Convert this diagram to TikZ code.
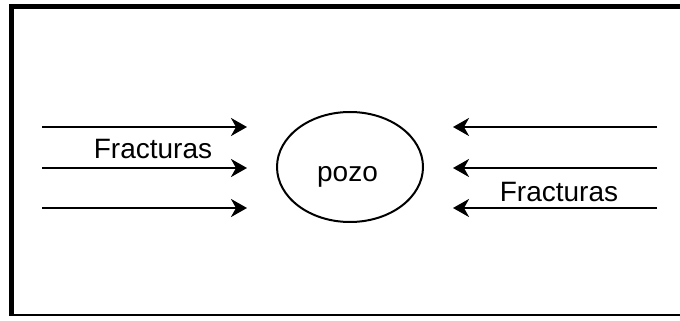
\documentclass[tikz,border=0pt]{standalone}
\usepackage{fontspec}
\setmainfont{Liberation Sans}
\usetikzlibrary{arrows.meta,shapes.geometric}
\begin{document}
\begin{tikzpicture}[x=1pt,y=1pt,
  flow/.style={line width=2.4pt,-{Stealth[length=16pt,width=18pt,inset=5pt]}},
  label/.style={font=\fontsize{28}{30}\selectfont,anchor=base,inner sep=0pt},
  well/.style={ellipse,draw,line width=2pt,minimum width=146pt,minimum height=110pt,inner sep=0pt}]
\useasboundingbox (0,0) rectangle (680,321);
% frame: open on the right side
\draw[line width=5pt] (680,314) -- (8.5,314);
\draw[line width=5pt] (11,316.5) -- (11,6);
\draw[line width=2.5pt] (9,6) -- (680,6);
% well
\node[well] (pozo) at (350,154) {};
\node[label] (pozotxt) at (347.5,139) {pozo};
% fracture flow from the left
\coordinate (l1s) at (42,194); \coordinate (l1e) at (247,194);
\coordinate (l2s) at (42,153); \coordinate (l2e) at (247,153);
\coordinate (l3s) at (42,113); \coordinate (l3e) at (247,113);
\draw[flow] (l1s) -- (l1e);
\draw[flow] (l2s) -- (l2e);
\draw[flow] (l3s) -- (l3e);
% fracture flow from the right
\coordinate (r1s) at (657,194); \coordinate (r1e) at (453,194);
\coordinate (r2s) at (657,153); \coordinate (r2e) at (453,153);
\coordinate (r3s) at (657,113); \coordinate (r3e) at (453,113);
\draw[flow] (r1s) -- (r1e);
\draw[flow] (r2s) -- (r2e);
\draw[flow] (r3s) -- (r3e);
% labels
\node[label] (fl) at (153,162) {Fracturas};
\node[label] (fr) at (559,119) {Fracturas};
\end{tikzpicture}
\end{document}
